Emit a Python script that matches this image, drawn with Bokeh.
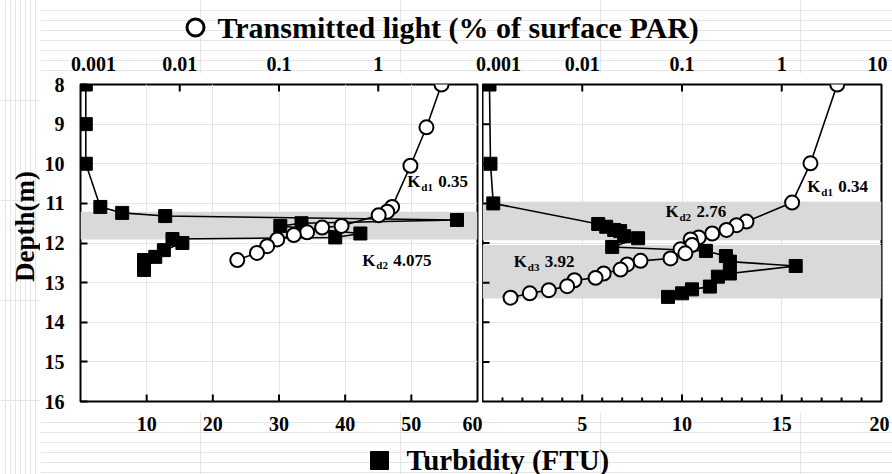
import math
from bokeh.plotting import figure
from bokeh.models import (Range1d, LogScale, LinearAxis, FixedTicker,
                          Label, BoxAnnotation, ColumnDataSource)
from bokeh.layouts import column, row
from bokeh.embed import file_html
from bokeh.resources import INLINE
from bokeh.core.properties import value

FONT = "Liberation Serif"

# ---------------- data ----------------
left_turb_depth = [8.0, 9.0, 10.0, 11.09, 11.24, 11.32, 11.42, 11.5, 11.57, 11.76, 11.86,
                   11.9, 12.0, 12.18, 12.35, 12.43, 12.68]
left_turb = [0.8, 0.8, 0.8, 3.0, 6.3, 12.8, 56.9, 33.4, 30.2, 42.3, 38.5,
             13.9, 15.4, 12.6, 11.3, 9.6, 9.6]

left_light_depth = [8.0, 9.08, 10.05, 11.09, 11.21, 11.3, 11.57, 11.61, 11.73, 11.8,
                    11.91, 12.08, 12.25, 12.43]
left_light = [4.34, 3.06, 2.11, 1.38, 1.23, 1.01, 0.427, 0.272, 0.192, 0.141,
              0.096, 0.076, 0.060, 0.038]

right_turb_depth = [8.0, 10.0, 11.0, 11.52, 11.59, 11.67, 11.7, 11.83, 11.88, 12.1, 12.2,
                    12.33, 12.47, 12.58, 12.77, 12.85, 13.1, 13.17, 13.27, 13.36]
right_turb = [0.35, 0.4, 0.54, 5.8, 6.2, 6.6, 6.9, 7.1, 7.8, 6.5, 11.2,
              12.2, 12.4, 15.7, 12.4, 11.8, 11.4, 10.5, 10.0, 9.3]

right_light_depth = [8.0, 9.99, 10.98, 11.46, 11.55, 11.67, 11.76, 11.86, 11.91, 12.05,
                     12.16, 12.26, 12.39, 12.45, 12.54, 12.67, 12.77, 12.88, 12.94,
                     13.09, 13.19, 13.27, 13.38]
right_light = [3.6, 1.94, 1.27, 0.443, 0.352, 0.279, 0.201, 0.147, 0.122, 0.126,
               0.0966, 0.108, 0.0767, 0.0384, 0.0282, 0.0242, 0.0164, 0.0136, 0.00836,
               0.00706, 0.00462, 0.00298, 0.00191]

left_bands = [(11.21, 11.91)]
right_bands = [(10.96, 11.93), (12.05, 13.4)]

left_kd = [("d1", "0.35", 49.4, 10.45), ("d2", "4.075", 42.6, 12.43)]
right_kd = [("d1", "0.34", 16.28, 10.58), ("d2", "2.76", 9.17, 11.21), ("d3", "3.92", 1.57, 12.47)]

depth_ticks = [8, 9, 10, 11, 12, 13, 14, 15, 16]
left_light_ticks = [0.001, 0.01, 0.1, 1]
left_light_labels = ["0.001", "0.01", "0.1", "1"]
right_light_ticks = [0.001, 0.01, 0.1, 1, 10]
right_light_labels = ["0.001", "0.01", "0.1", "1", "10"]
left_turb_ticks = [10, 20, 30, 40, 50, 60]
left_turb_labels = ["10", "20", "30", "40", "50", "60"]
right_turb_ticks = [5, 10, 15, 20]
right_turb_labels = ["5", "10", "15", "20"]
right_turb_minor = list(range(1, 20))

TITLE_TOP = "Transmitted light (% of surface PAR)"
TITLE_BOTTOM = "Turbidity (FTU)"
Y_TITLE = "Depth(m)"

# ---------------- layout constants (page pixels) ----------------
PAGE_W, PAGE_H = 892, 474
DEPTH_W = 40
TOP_H = 73
PANEL_H = 339
BOT_H = PAGE_H - TOP_H - PANEL_H
FL0, FL1 = 80, 477      # left frame x extent
FR0, FR1 = 482, 881     # right frame x extent
FT, FB = 84, 401        # frame top / bottom
TICK_LABEL_SIZE = "20px"
MAJOR_TICK = 7
MINOR_TICK = 4


def base_fig(width, height, **kw):
    p = figure(width=width, height=height, output_backend="svg", toolbar_location=None,
               x_axis_location=None, y_axis_location=None, **kw)
    p.background_fill_color = "white"
    p.border_fill_color = "white"
    return p


def panel(width, min_left, min_right, tmax):
    p = base_fig(width, PANEL_H, x_range=Range1d(0, tmax), y_range=Range1d(16, 8),
                 min_border_left=min_left, min_border_right=min_right,
                 min_border_top=FT - TOP_H, min_border_bottom=TOP_H + PANEL_H - FB)
    p.extra_x_ranges = {"light": Range1d(0.001, 10)}
    p.extra_x_scales = {"light": LogScale()}
    p.outline_line_color = "black"
    p.outline_line_width = 2
    return p


def edge_ticks(p, xs, ys, vertical, length_px, x_range_name="default"):
    # a dash centred on the frame edge: the half outside the frame is clipped away,
    # leaving an inward tick of length_px
    p.scatter(x=xs, y=ys, marker="dash", size=2 * length_px,
              angle=(math.pi / 2 if vertical else 0.0),
              line_color="black", line_width=2, x_range_name=x_range_name)


def lbl(**kw):
    base = dict(text_font=FONT, text_font_style="bold", text_color="black")
    base.update(kw)
    return Label(**base)


def draw(p, td, tv, ld, lv, bands, kds):
    for top, bot in bands:
        p.add_layout(BoxAnnotation(top=top, bottom=bot, fill_color="#d9d9d9", fill_alpha=1,
                                   line_color=None, level="underlay"))
    ts = ColumnDataSource(dict(x=tv, y=td))
    ls = ColumnDataSource(dict(x=lv, y=ld))
    p.line("x", "y", source=ts, line_color="black", line_width=1.6)
    p.line("x", "y", source=ls, line_color="black", line_width=1.6, x_range_name="light")
    p.scatter("x", "y", source=ts, marker="square", size=13, fill_color="black", line_color="black")
    p.scatter("x", "y", source=ls, marker="circle", size=14, fill_color="white", line_color="black",
              line_width=2, x_range_name="light")
    for sub, val, x, y in kds:
        p.add_layout(lbl(x=x, y=y, text="K", text_font_size="17px", text_baseline="middle"))
        p.add_layout(lbl(x=x, y=y, x_offset=14, y_offset=-5, text=sub, text_font_size="11px",
                         text_baseline="middle"))
        p.add_layout(lbl(x=x, y=y, x_offset=31, text=val, text_font_size="17px",
                         text_baseline="middle"))


# ---------------- left panel ----------------
pl = panel(FR0 - DEPTH_W, FL0 - DEPTH_W, FR0 - FL1, 60)
ax_l = LinearAxis(ticker=FixedTicker(ticks=depth_ticks))
ax_l.axis_line_color = None
ax_l.major_tick_in = MAJOR_TICK
ax_l.major_tick_out = 0
ax_l.major_tick_line_width = 2
ax_l.minor_tick_in = 0
ax_l.minor_tick_out = 0
ax_l.major_label_standoff = 16
ax_l.major_label_text_font = FONT
ax_l.major_label_text_font_style = "bold"
ax_l.major_label_text_font_size = TICK_LABEL_SIZE
ax_l.major_label_text_color = "black"
pl.add_layout(ax_l, "left")
lt = left_light_ticks[1:]
edge_ticks(pl, lt, [8] * len(lt), True, MAJOR_TICK, x_range_name="light")
bt = left_turb_ticks[:-1]
edge_ticks(pl, bt, [16] * len(bt), True, MAJOR_TICK)
draw(pl, left_turb_depth, left_turb, left_light_depth, left_light, left_bands, left_kd)

# ---------------- right panel ----------------
pr = panel(PAGE_W - FR0, 0, PAGE_W - FR1, 20)
dt = depth_ticks[1:-1]
edge_ticks(pr, [0] * len(dt), dt, False, MAJOR_TICK)
rt = right_light_ticks[1:-1]
edge_ticks(pr, rt, [8] * len(rt), True, MAJOR_TICK, x_range_name="light")
rb = right_turb_ticks[:-1]
edge_ticks(pr, rb, [16] * len(rb), True, MAJOR_TICK)
rm = [m for m in right_turb_minor if m % 5]
edge_ticks(pr, rm, [16] * len(rm), True, MINOR_TICK)
draw(pr, right_turb_depth, right_turb, right_light_depth, right_light, right_bands, right_kd)


# ---------------- strips (titles and x tick labels) ----------------
def log_range(f0, f1, lo=0.001, hi=10):
    dec = (f1 - f0) / (math.log10(hi) - math.log10(lo))
    a = math.log10(lo) - (f0 - DEPTH_W) / dec
    b = math.log10(lo) + (PAGE_W - f0) / dec
    return Range1d(10 ** a, 10 ** b)


def lin_range(f0, f1, lo, hi):
    s = (f1 - f0) / (hi - lo)
    return Range1d(lo - (f0 - DEPTH_W) / s, lo + (PAGE_W - f0) / s)


def strip(h):
    s = base_fig(PAGE_W - DEPTH_W, h, x_range=Range1d(DEPTH_W, PAGE_W), y_range=Range1d(h, 0),
                 min_border=0)
    s.outline_line_color = None
    return s


text_style = dict(text_font=value(FONT), text_font_style="bold", text_color="black",
                  text_baseline="middle")

st = strip(TOP_H)
st.extra_x_ranges = {"lightL": log_range(FL0, FL1), "lightR": log_range(FR0, FR1)}
st.extra_x_scales = {"lightL": LogScale(), "lightR": LogScale()}
st.scatter([195], [27], marker="circle", size=17, fill_color="white", line_color="black", line_width=3)
st.text(x=[217], y=[27], text=[TITLE_TOP], text_font_size="30px", **text_style)
st.text(x=left_light_ticks, y=[63] * len(left_light_ticks), text=left_light_labels,
        x_offset=[13, 0, 0, 0], x_range_name="lightL", text_align="center",
        text_font_size=TICK_LABEL_SIZE, **text_style)
st.text(x=right_light_ticks, y=[63] * len(right_light_ticks), text=right_light_labels,
        x_offset=[16, 0, 0, 0, -4], x_range_name="lightR", text_align="center",
        text_font_size=TICK_LABEL_SIZE, **text_style)

sb = strip(BOT_H)
sb.extra_x_ranges = {"turbL": lin_range(FL0, FL1, 0, 60), "turbR": lin_range(FR0, FR1, 0, 20)}
label_y = 423 - (TOP_H + PANEL_H)
title_y = 459 - (TOP_H + PANEL_H)
sb.text(x=left_turb_ticks, y=[label_y] * len(left_turb_ticks), text=left_turb_labels,
        x_offset=[0, 0, 0, 0, 0, -5], x_range_name="turbL", text_align="center",
        text_font_size=TICK_LABEL_SIZE, **text_style)
sb.text(x=right_turb_ticks, y=[label_y] * len(right_turb_ticks), text=right_turb_labels,
        x_offset=[0, 0, 0, -2], x_range_name="turbR", text_align="center",
        text_font_size=TICK_LABEL_SIZE, **text_style)
sb.scatter([379], [title_y + 1], marker="square", size=18, fill_color="black", line_color="black")
sb.text(x=[406], y=[title_y], text=[TITLE_BOTTOM], text_font_size="29px", **text_style)

# ---------------- depth title column ----------------
sd = base_fig(DEPTH_W, PAGE_H, x_range=Range1d(0, DEPTH_W), y_range=Range1d(PAGE_H, 0), min_border=0)
sd.outline_line_color = None
sd.text(x=[24], y=[226], text=[Y_TITLE], angle=math.pi / 2, text_align="center",
        text_font_size="27px", **text_style)

layout = row(sd, column(st, row(pl, pr, spacing=0), sb, spacing=0), spacing=0)
open("out.html", "w").write(file_html(layout, INLINE))
